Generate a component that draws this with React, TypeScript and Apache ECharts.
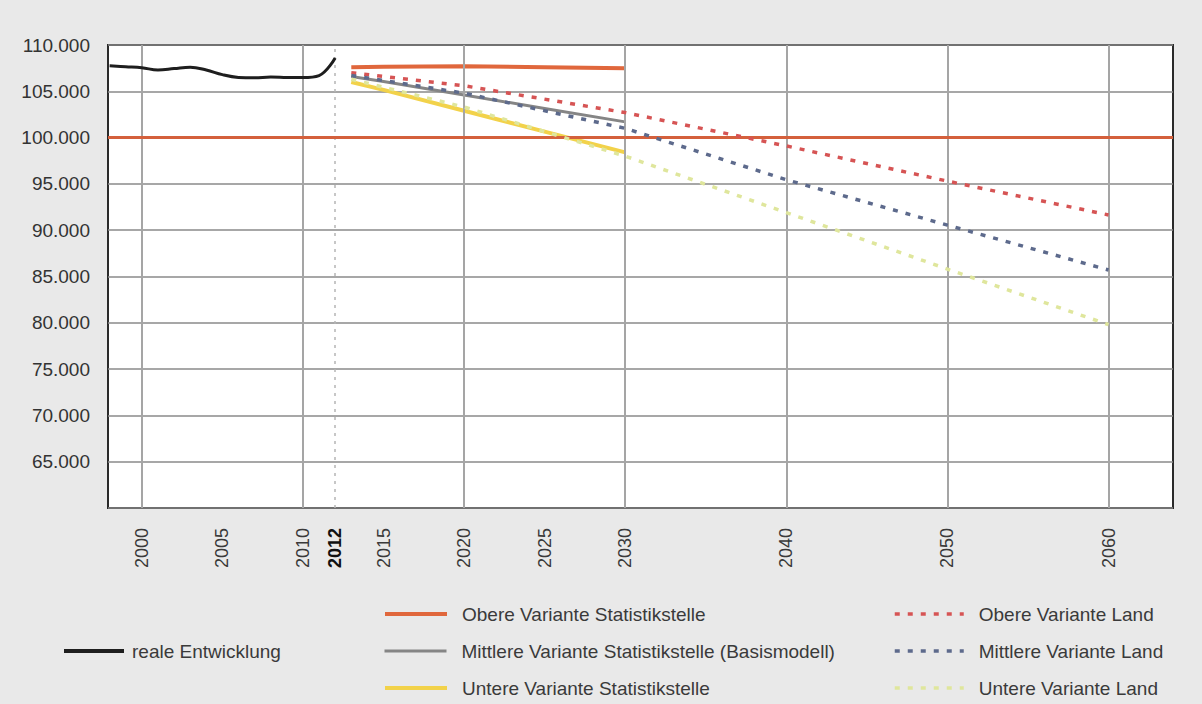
import React, { useEffect, useRef } from 'react';
import * as echarts from 'echarts';

const FONT = "'Liberation Sans', Arial, Helvetica, sans-serif";

// --- Data ---
const realYears = [1998, 1999, 2000, 2001, 2002, 2003, 2004, 2005, 2006, 2007, 2008, 2009, 2010, 2011, 2012];
const realValues = [107750, 107650, 107550, 107300, 107450, 107600, 107300, 106800, 106500, 106450, 106550, 106500, 106480, 106700, 108600];

const statYears = [2013, 2015, 2020, 2025, 2030];
const obereStat = [107600, 107650, 107700, 107600, 107500];
const mittlereStat = [106600, 106050, 104600, 103150, 101700];
const untereStat = [106000, 105150, 102900, 100650, 98400];

const landYears = [2013, 2020, 2030, 2040, 2050, 2060];
const obereLand = [107000, 105600, 102700, 99100, 95300, 91650];
const mittlereLand = [106700, 104800, 101000, 95450, 90550, 85700];
const untereLand = [106300, 103300, 98000, 91900, 85800, 79800];

const xLabelYears = [2000, 2005, 2010, 2012, 2015, 2020, 2025, 2030, 2040, 2050, 2060];
const xGridYears = [2000, 2010, 2020, 2030, 2040, 2050, 2060];
const markYear = 2012;
const refLevel = 100000;

const names = {
  real: 'reale Entwicklung',
  oS: 'Obere Variante Statistikstelle',
  mS: 'Mittlere Variante Statistikstelle (Basismodell)',
  uS: 'Untere Variante Statistikstelle',
  oL: 'Obere Variante Land',
  mL: 'Mittlere Variante Land',
  uL: 'Untere Variante Land',
};

const zip = (xs: number[], ys: number[]) => xs.map((x, i) => [x, ys[i]]);

const fmtDE = (v: number) => {
  const t = Math.floor(v / 1000);
  const r = String(Math.round(v % 1000)).padStart(3, '0');
  return t + '.' + r;
};

function legendItem(name: string, left: number, cy: number, iconW: number, gap: number, lw: number) {
  return {
    show: true,
    data: [name],
    left,
    top: cy - 10,
    padding: 0,
    itemWidth: iconW,
    itemHeight: 14,
    itemGap: 0,
    selectedMode: false,
    itemStyle: { opacity: 0, borderWidth: 0 },
    lineStyle: { width: lw },
    textStyle: {
      fontSize: 19,
      color: '#3a3a3a',
      fontFamily: FONT,
      lineHeight: 20,
      padding: [0, 0, 0, gap - 5],
    },
  };
}

export default function App() {
  const ref = useRef<HTMLDivElement>(null);
  useEffect(() => {
    document.body.style.margin = '0';
    const chart = echarts.init(ref.current!, null, { renderer: 'svg' });
    const dotted = (color: string) => ({ color, width: 3.5, type: [5, 8] as any, cap: 'butt' as any });
    const option: any = {
      animation: false,
      backgroundColor: '#e9e9e9',
      textStyle: { fontFamily: FONT },
      grid: {
        left: 108,
        top: 45,
        width: 1065,
        height: 463,
        show: true,
        backgroundColor: '#ffffff',
        borderColor: '#2a2a2a',
        borderWidth: 2,
        containLabel: false,
      },
      xAxis: {
        type: 'value',
        min: 1997.9,
        max: 2064,
        axisLine: { show: false },
        axisTick: { show: false },
        splitLine: { show: false },
        axisLabel: {
          customValues: xLabelYears,
          rotate: 90,
          margin: 20,
          fontSize: 18,
          color: '#3a3a3a',
          fontFamily: FONT,
          formatter: (v: number) => (v === markYear ? '{b|' + v + '}' : String(v)),
          rich: { b: { fontWeight: 'bold', color: '#111', fontSize: 18, fontFamily: FONT } },
        },
      },
      yAxis: {
        type: 'value',
        min: 60000,
        max: 110000,
        interval: 5000,
        axisLine: { show: false },
        axisTick: { show: false },
        splitLine: { show: true, lineStyle: { color: '#8a8a8a', width: 1.5 } },
        axisLabel: {
          margin: 18,
          fontSize: 19,
          color: '#333',
          fontFamily: FONT,
          formatter: (v: number) => (v <= 60000 ? '' : fmtDE(v)),
        },
      },
      legend: [
        legendItem(names.real, 62, 651, 60, 8, 4),
        legendItem(names.oS, 383, 614, 62, 15, 4),
        legendItem(names.mS, 383, 651, 62, 15, 3),
        legendItem(names.uS, 383, 688, 62, 15, 4),
        legendItem(names.oL, 893, 614, 69, 15, 3.5),
        legendItem(names.mL, 893, 651, 69, 15, 3.5),
        legendItem(names.uL, 893, 688, 69, 15, 3.5),
      ],
      series: [
        {
          name: '__grid',
          type: 'line',
          data: [],
          z: 1,
          silent: true,
          markLine: {
            silent: true,
            symbol: 'none',
            label: { show: false },
            data: [
              ...xGridYears.map((y) => ({ xAxis: y, lineStyle: { color: '#a5a5a5', width: 2, type: 'solid' } })),
              { xAxis: markYear, lineStyle: { color: '#b5b5b5', width: 1.5, type: [3, 5] } },
              { yAxis: refLevel, lineStyle: { color: '#d4603c', width: 3, type: 'solid' } },
            ],
          },
        },
        {
          name: names.real,
          type: 'line',
          data: zip(realYears, realValues),
          showSymbol: false,
          symbol: 'none',
          smooth: 0.4,
          z: 5,
          lineStyle: { color: '#1e1e1e', width: 3 },
          itemStyle: { color: '#1e1e1e' },
        },
        {
          name: names.oS,
          type: 'line',
          data: zip(statYears, obereStat),
          symbol: 'none',
          z: 4,
          lineStyle: { color: '#e0673c', width: 4 },
          itemStyle: { color: '#e0673c' },
        },
        {
          name: names.mS,
          type: 'line',
          data: zip(statYears, mittlereStat),
          symbol: 'none',
          z: 4,
          lineStyle: { color: '#858585', width: 3 },
          itemStyle: { color: '#858585' },
        },
        {
          name: names.uS,
          type: 'line',
          data: zip(statYears, untereStat),
          symbol: 'none',
          z: 4,
          lineStyle: { color: '#f2d24a', width: 4 },
          itemStyle: { color: '#f2d24a' },
        },
        {
          name: names.oL,
          type: 'line',
          data: zip(landYears, obereLand),
          symbol: 'none',
          z: 6,
          lineStyle: dotted('#d65454'),
          itemStyle: { color: '#d65454' },
        },
        {
          name: names.mL,
          type: 'line',
          data: zip(landYears, mittlereLand),
          symbol: 'none',
          z: 6,
          lineStyle: dotted('#5d6a8c'),
          itemStyle: { color: '#5d6a8c' },
        },
        {
          name: names.uL,
          type: 'line',
          data: zip(landYears, untereLand),
          symbol: 'none',
          z: 6,
          lineStyle: dotted('#dfe69c'),
          itemStyle: { color: '#dfe69c' },
        },
      ],
    };
    chart.setOption(option);
    return () => chart.dispose();
  }, []);
  return <div ref={ref} style={{ width: 1202, height: 704, background: '#e9e9e9' }} />;
}
